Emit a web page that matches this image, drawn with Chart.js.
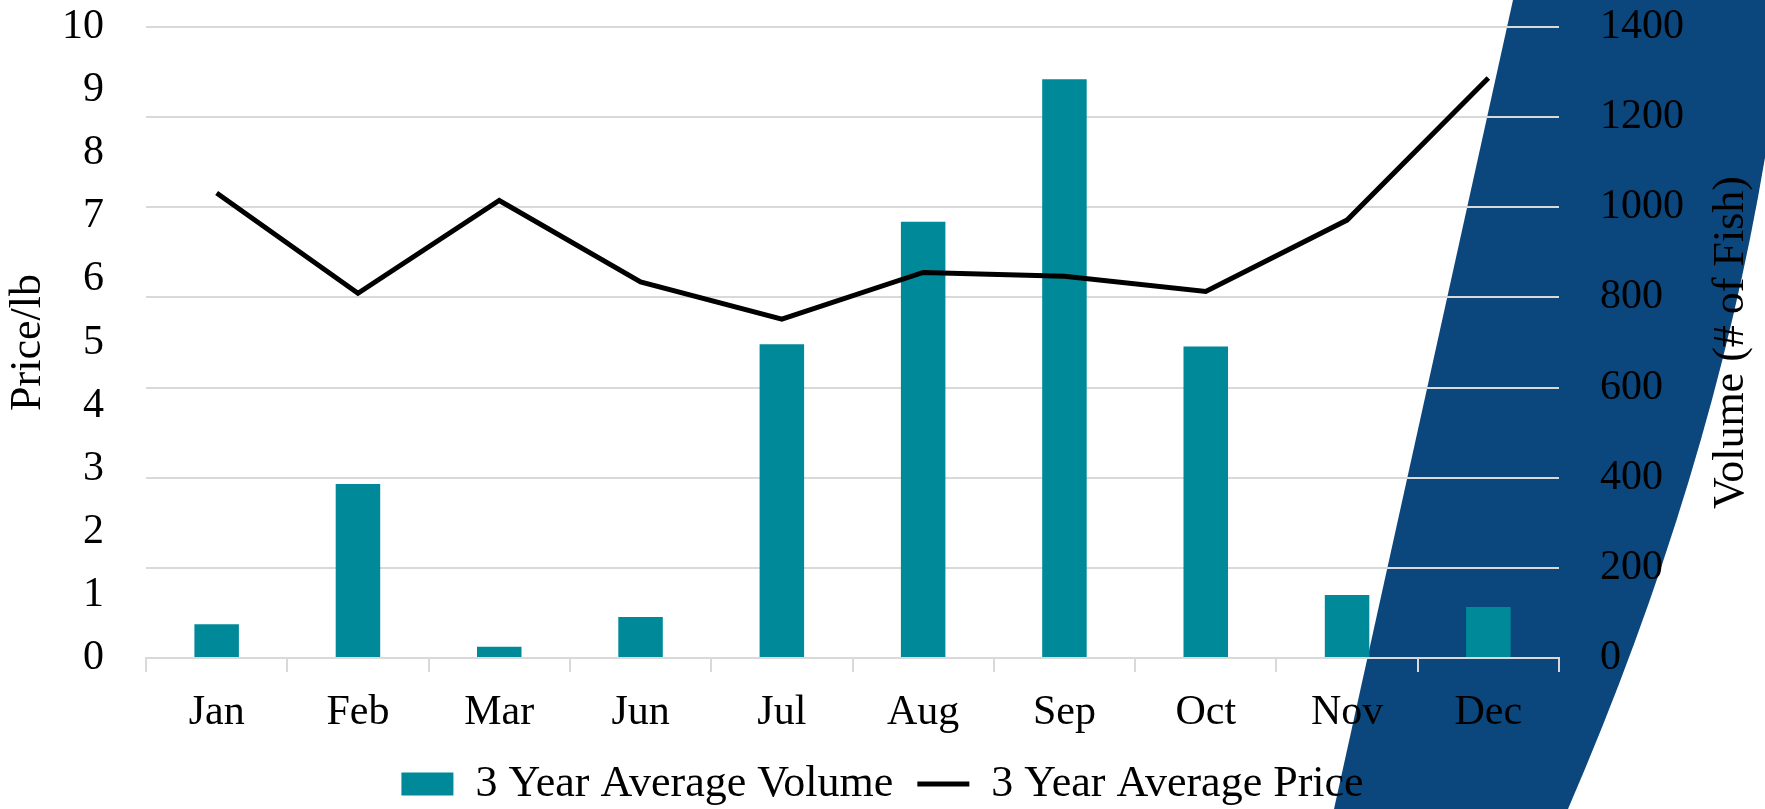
<!DOCTYPE html>
<html>
<head>
<meta charset="UTF-8" />
<script src="https://cdn.jsdelivr.net/npm/chart.js"></script>
<style>
  body { margin: 0; background: #fff; }
  #wrap { width: 1765px; height: 809px; position: relative; }
</style>
</head>
<body>
<div id="wrap"><canvas id="chart"></canvas></div>
<script>
// months shown on the x axis
const months = ['Jan', 'Feb', 'Mar', 'Jun', 'Jul', 'Aug', 'Sep', 'Oct', 'Nov', 'Dec'];
// 3 year average volume (# of fish), right axis
const volume = [75, 386, 25, 91, 696, 968, 1284, 691, 140, 113];
// 3 year average price per lb, left axis
const price = [7.37, 5.78, 7.25, 5.96, 5.37, 6.11, 6.05, 5.81, 6.94, 9.19];

const priceTitle = 'Price/lb';
const volumeTitle = 'Volume (# of Fish)';

Chart.defaults.font.family = '"Liberation Serif", serif';
Chart.defaults.font.size = 42;
Chart.defaults.color = '#000';

// blue band behind the plot + right axis title (reads bottom to top)
const decor = {
  id: 'decor',
  beforeDraw(chart) {
    const { ctx } = chart;
    const sx = chart.width / 1765;
    const sy = chart.height / 809;
    ctx.save();
    ctx.fillStyle = '#0b477d';
    ctx.beginPath();
    ctx.moveTo(1513 * sx, 0);
    ctx.lineTo(1334 * sx, 809 * sy);
    ctx.lineTo(1568 * sx, 809 * sy);
    ctx.quadraticCurveTo(1747 * sx, 395 * sy, 1786 * sx, 0);
    ctx.closePath();
    ctx.fill();
    ctx.restore();
  },
  afterDraw(chart) {
    const { ctx, chartArea } = chart;
    const sx = chart.width / 1765;
    ctx.save();
    ctx.translate(1731 * sx, (chartArea.top + chartArea.bottom) / 2);
    ctx.rotate(-Math.PI / 2);
    ctx.textAlign = 'center';
    ctx.textBaseline = 'middle';
    ctx.fillStyle = '#000';
    ctx.font = '44px "Liberation Serif", serif';
    ctx.fillText(volumeTitle, 0, 0);
    ctx.restore();
  },
};

// keep the tick padding from pushing the plot down
function fixY(width) {
  return s => {
    s.width = width;
    s.paddingTop = 25;
    s.paddingBottom = 25;
  };
}

new Chart(document.getElementById('chart'), {
  data: {
    labels: months,
    datasets: [
      {
        type: 'bar',
        label: '3 Year Average Volume',
        data: volume,
        yAxisID: 'y1',
        backgroundColor: '#008a99',
        barPercentage: 0.315,
        categoryPercentage: 1,
        pointStyle: 'rect',
        order: 2,
      },
      {
        type: 'line',
        label: '3 Year Average Price',
        data: price,
        yAxisID: 'y',
        borderColor: '#000',
        backgroundColor: '#000',
        borderWidth: 5,
        pointRadius: 0,
        pointStyle: 'line',
        tension: 0,
        order: 1,
      },
    ],
  },
  options: {
    responsive: true,
    maintainAspectRatio: false,
    animation: false,
    layout: { padding: { top: 27, bottom: -7, left: 0, right: 0 } },
    plugins: {
      tooltip: { enabled: false },
      legend: {
        position: 'bottom',
        labels: {
          usePointStyle: true,
          pointStyleWidth: 52,
          boxHeight: 23,
          padding: 24,
          font: { size: 44 },
          sort: (a, b) => a.datasetIndex - b.datasetIndex,
        },
      },
    },
    scales: {
      x: {
        afterFit: s => { s.height = 80; },
        grid: {
          offset: true,
          drawOnChartArea: false,
          drawTicks: true,
          tickLength: 14,
          color: '#d9d9d9',
          lineWidth: 2,
        },
        border: { display: true, color: '#d9d9d9', width: 2 },
        ticks: { padding: 16 },
      },
      y: {
        position: 'left',
        min: 0,
        max: 10,
        afterFit: fixY(146),
        ticks: { stepSize: 1, padding: 42, callback: v => String(v) },
        grid: { display: false, drawTicks: false },
        border: { display: false },
        title: {
          display: true,
          text: priceTitle,
          font: { size: 44 },
          padding: { top: 2, bottom: 0 },
        },
      },
      y1: {
        position: 'right',
        min: 0,
        max: 1400,
        afterFit: fixY(206),
        ticks: { stepSize: 200, padding: 41, callback: v => String(v) },
        grid: { color: '#d9d9d9', lineWidth: 2, drawTicks: false },
        border: { display: false },
      },
    },
  },
  plugins: [decor],
});
</script>
</body>
</html>
